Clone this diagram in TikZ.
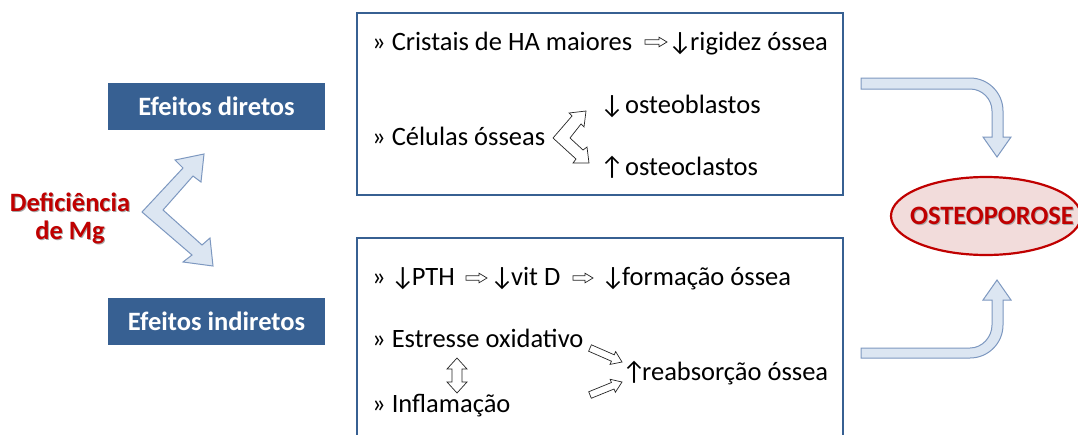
\documentclass[tikz,border=0pt]{standalone}
\usepackage{fontspec}
\setmainfont{Carlito}
\usetikzlibrary{calc,shapes.geometric}
\definecolor{boxblue}{RGB}{55,96,146}
\definecolor{arrfill}{RGB}{220,230,242}
\definecolor{arrline}{RGB}{125,152,192}
\definecolor{darkred}{RGB}{192,0,0}
\definecolor{pinkfill}{RGB}{242,220,219}
\newcommand\hollowarrow[6]{%
  \coordinate (ha-b) at ($(#3)!#6!(#2)$);
  \draw[#1] ($(#2)!#4!90:(#3)$) -- ($(ha-b)!#4!-90:(#2)$) -- ($(ha-b)!#5!-90:(#2)$) -- (#3)
    -- ($(ha-b)!#5!90:(#2)$) -- ($(ha-b)!#4!90:(#2)$) -- ($(#2)!#4!-90:(#3)$) -- cycle;}
\begin{document}
\begin{tikzpicture}[x=1pt,y=-1pt,
  txt/.style={anchor=base west, inner sep=0pt, font=\fontsize{26.5}{31}\selectfont},
  effbox/.style={fill=boxblue, text=white, font=\bfseries\fontsize{26.5}{31}\selectfont,
    minimum width=217pt, minimum height=47pt, inner sep=0pt},
  panel/.style={draw=boxblue, line width=2pt, minimum width=486pt, inner sep=0pt},
  bigarrow/.style={fill=arrfill, draw=arrline, line width=1pt, line join=miter},
  smallarrow/.style={fill=white, draw=black!85, line width=0.7pt, line join=miter},
  redtxt/.style={text=darkred, font=\bfseries\fontsize{26.5}{31}\selectfont, align=center, inner sep=0pt},
  shadowtxt/.style={text=black!35, font=\bfseries\fontsize{26.5}{31}\selectfont, align=center, inner sep=0pt},
]
\clip (0,0) rectangle (1078,434);
\fill[white] (0,0) rectangle (1078,434);

% left side
\node[effbox] (dir) at (216.5,106.5) {Efeitos diretos};
\node[effbox] (ind) at (216.5,321.5) {Efeitos indiretos};
\node[shadowtxt] at (71,219) {Deficiência\\[-3pt]de Mg};
\node[redtxt] (def) at (70,218) {Deficiência\\[-3pt]de Mg};

% big chevron double arrow
\draw[bigarrow] (142,212) -- (183,168) -- (175,160) -- (204,154) -- (201,182) -- (193,176)
  -- (163,210) -- (202,245) -- (210,238) -- (213,266) -- (183,262) -- (192,255) -- cycle;

% panels
\node[panel, minimum height=182pt] (top) at (600,104) {};
\node[panel, minimum height=212pt] (bot) at (600,344) {};

% top panel text
\node[txt] (t1) at (372,50) {» Cristais de HA maiores};
\coordinate (a1s) at (645,42); \coordinate (a1e) at (667,42);
\hollowarrow{smallarrow}{a1s}{a1e}{2.2pt}{4.8pt}{8pt}
\node[txt] (t2) at (668,50) {↓\kern-2pt rigidez óssea};
\node[txt] (t3) at (372,145) {» Células ósseas};
\node[txt] (t4) at (600,113) {↓\kern1pt osteoblastos};
\node[txt] (t5) at (600,175) {↑\kern1pt osteoclastos};
\draw[smallarrow] (553,138) -- (572,116) -- (569,113) -- (586,111) -- (584,127) -- (581,124)
  -- (570,138) -- (583,150) -- (587,147) -- (589,163) -- (573,163) -- (576,159) -- cycle;

% bottom panel text
\node[txt] (b1) at (372,285) {»\kern5pt↓\kern-3pt PTH};
\coordinate (a2s) at (466,278); \coordinate (a2e) at (487,278);
\hollowarrow{smallarrow}{a2s}{a2e}{2.2pt}{4.8pt}{8pt}
\node[txt] (b2) at (490,285) {↓\kern-3pt vit D};
\coordinate (a3s) at (573,278); \coordinate (a3e) at (593,278);
\hollowarrow{smallarrow}{a3s}{a3e}{2.2pt}{4.8pt}{8pt}
\node[txt] (b3) at (601,285) {↓\kern-3pt formação óssea};
\node[txt] (b4) at (372,347) {» Estresse oxidativo};
\node[txt] (b5) at (372,412) {» Inflamação};
\node[txt] (b6) at (622,380) {↑\kern-4pt reabsorção óssea};
\draw[smallarrow] (457,358) -- (467,369) -- (462,369) -- (462,382) -- (467,382) -- (457,393)
  -- (447,382) -- (452,382) -- (452,369) -- (447,369) -- cycle;
\coordinate (a4s) at (590,348); \coordinate (a4e) at (622,362);
\hollowarrow{smallarrow}{a4s}{a4e}{3.5pt}{7pt}{10pt}
\coordinate (a5s) at (590,395); \coordinate (a5e) at (622,382);
\hollowarrow{smallarrow}{a5s}{a5e}{3.5pt}{7pt}{10pt}

% right side
\node[ellipse, draw=darkred, fill=pinkfill, line width=2.2pt, minimum width=190pt, minimum height=78pt, inner sep=0pt] (osteo) at (986,216) {};
\node[shadowtxt] at (993,217) {OSTEOPOROSE};
\node[redtxt] (ostt) at (992,216) {OSTEOPOROSE};

\draw[bigarrow] (861,78) -- (970,78) .. controls (988.2,78) and (1003,92.8) .. (1003,111)
  -- (1003,137) -- (1011,137) -- (997,157) -- (983,137) -- (992,137) -- (992,111)
  .. controls (992,98.9) and (982.1,89) .. (970,89) -- (861,89) -- cycle;
\draw[bigarrow] (861,358) -- (970,358) .. controls (988.2,358) and (1003,343.2) .. (1003,325)
  -- (1003,300) -- (1011,300) -- (997,280) -- (983,300) -- (992,300) -- (992,325)
  .. controls (992,337.1) and (982.1,348) .. (970,348) -- (861,348) -- cycle;
\end{tikzpicture}
\end{document}
